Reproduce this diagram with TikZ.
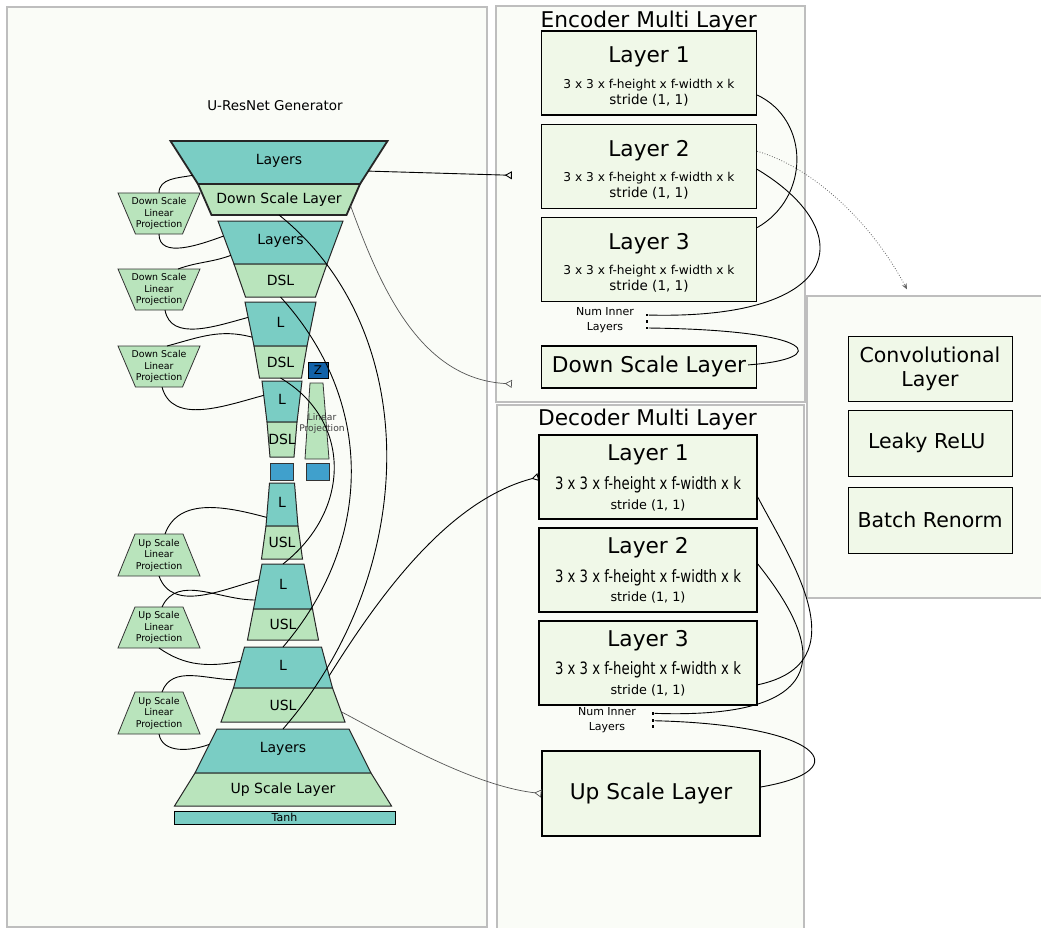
\documentclass[tikz,border=0pt]{standalone}
\usepackage{fontspec}
\setmainfont{DejaVu Sans}
\newfontfamily\narrowfont[FakeStretch=0.78]{DejaVu Sans}
\usepackage{tikz}
\usetikzlibrary{positioning,calc,arrows.meta}
\definecolor{layerteal}{RGB}{122,205,196}
\definecolor{scalegreen}{RGB}{185,228,188}
\definecolor{boxgreen}{RGB}{240,248,232}
\definecolor{panelfill}{RGB}{250,252,247}
\definecolor{panelgray}{RGB}{190,190,190}
\definecolor{zblue}{RGB}{18,98,168}
\definecolor{noiseblue}{RGB}{64,160,204}
\definecolor{linkgray}{RGB}{85,85,85}
\tikzstyle{panel} = [rectangle, draw=panelgray, line width=1.5pt, fill=panelfill, inner sep=0pt]
\tikzstyle{layerbox} = [rectangle, draw=black, line width=1.3pt, fill=boxgreen, inner sep=0pt, font=\fontsize{21.7}{26}\selectfont]

\begin{document}
\begin{tikzpicture}[x=1pt, y=-1pt,
  trap/.style={draw=black!85, line width=#1},
  proj/.style={draw=black!80, line width=0.8pt, fill=scalegreen},
  link/.style={draw=black, line width=0.9pt},
  glink/.style={draw=linkgray, line width=0.7pt},
  dotlink/.style={draw=black!60, line width=0.8pt, dash pattern=on 0.8pt off 1.8pt,
    -{Stealth[length=6pt,width=5pt]}},
  opentip/.style={-{Triangle[open,reversed,length=7pt,width=8pt]}},
  bigtxt/.style={font=\fontsize{21.7}{26}\selectfont, inner sep=0pt},
  titletxt/.style={font=\fontsize{13.5}{16}\selectfont, inner sep=0pt},
  trtxt/.style={font=\fontsize{14}{16}\selectfont, inner sep=0pt},
  projtxt/.style={align=center, font=\fontsize{9.4}{11.5}\selectfont, inner sep=0pt},
  lintxt/.style={align=center, text=black!75, font=\fontsize{9.2}{11.5}\selectfont, inner sep=0pt},
  numtxt/.style={align=center, font=\fontsize{11}{15}\selectfont, inner sep=0pt},
  dotbox/.style={rectangle, fill=black, minimum size=2.7pt, inner sep=0pt},
  zbox/.style={rectangle, draw=black, line width=0.8pt, fill=zblue, minimum width=20pt,
    minimum height=16pt, inner sep=0pt, font=\fontsize{12}{14}\selectfont},
  noisebox/.style={rectangle, draw=black!80, line width=0.8pt, fill=noiseblue,
    minimum width=23pt, minimum height=17pt, inner sep=0pt},
  tanhbox/.style={rectangle, draw=black, line width=1pt, fill=layerteal, minimum width=221pt,
    minimum height=13pt, inner sep=0pt, font=\fontsize{11}{13}\selectfont}]
  \useasboundingbox (0,0) rectangle (1041,928);
  % draw panels
  \node[panel, line width=2pt, minimum width=480pt, minimum height=920pt] (gen) at (247,467) {};
  \node[panel, minimum width=309pt, minimum height=396pt] (enc) at (650.5,204) {};
  \node[panel, minimum width=307pt, minimum height=530pt] (dec) at (650.5,670) {};
  \node[panel, line width=1.2pt, minimum width=240pt, minimum height=302pt] (blk) at (927,447) {};
  \node[titletxt] (gen-t) at (275,106) {U-ResNet Generator};
  \node[bigtxt] (enc-t) at (648.7,21.6) {Encoder Multi Layer};
  \node[bigtxt] (dec-t) at (647.5,419.6) {Decoder Multi Layer};
  % draw encoder layers
  \node[layerbox, minimum width=215pt, minimum height=84pt] (el1) at (649,73) {};
  \foreach \i [count=\prev from 1] in {2,3}
    \node[layerbox, minimum width=215pt, minimum height=84pt, below=8pt of el\prev] (el\i) {};
  \foreach \i in {1,2,3} {
    \node[bigtxt] (el\i-t) at ([yshift=16pt]el\i.center) {Layer \i};
    \node[font=\fontsize{12.2}{14}\selectfont, inner sep=0pt] (el\i-k) at ([yshift=-12pt]el\i.center) {3 x 3 x f-height x f-width x k};
    \node[font=\fontsize{13.5}{16}\selectfont, inner sep=0pt] (el\i-s) at ([yshift=-27pt]el\i.center) {stride (1, 1)};
  }
  \node[layerbox, minimum width=215pt, minimum height=42pt, below=43pt of el3] (eds) {Down Scale Layer};
  \node[numtxt] (enum) at (605,320.5) {Num Inner\\Layers};
  \foreach \i/\y in {1/315,2/321.5,3/328}
    \node[dotbox] (ed\i) at (647,\y) {};
  % draw decoder layers
  \node[layerbox, line width=1.4pt, minimum width=218pt, minimum height=84pt] (dl1) at (648,477) {};
  \foreach \i [count=\prev from 1] in {2,3}
    \node[layerbox, line width=1.4pt, minimum width=218pt, minimum height=84pt, below=7.5pt of dl\prev] (dl\i) {};
  \foreach \i in {1,2,3} {
    \node[bigtxt] (dl\i-t) at ([yshift=22pt]dl\i.center) {Layer \i};
    \node[font=\narrowfont\fontsize{17}{20}\selectfont, inner sep=0pt] (dl\i-k) at ([yshift=-7.5pt]dl\i.center) {3 x 3 x f-height x f-width x k};
    \node[font=\fontsize{12.8}{15}\selectfont, inner sep=0pt] (dl\i-s) at ([yshift=-28pt]dl\i.center) {stride (1, 1)};
  }
  \node[layerbox, line width=1.4pt, minimum width=218pt, minimum height=85pt] (dus) at (651,793.5) {Up Scale Layer};
  \node[numtxt] (dnum) at (607,720.5) {Num Inner\\Layers};
  \foreach \i/\y in {1/713.3,2/720.7,3/726.7}
    \node[dotbox] (dd\i) at (653,\y) {};
  % draw block layers
  \node[layerbox, line width=1pt, font=\fontsize{20.5}{24}\selectfont, align=center,
    minimum width=164pt, minimum height=65pt] (conv) at (930,368.5) {Convolutional\\Layer};
  \node[layerbox, line width=1pt, font=\fontsize{20.5}{24}\selectfont,
    minimum width=164pt, minimum height=66pt, below=8pt of conv] (relu) {Leaky ReLU~~};
  \node[layerbox, line width=1pt, font=\fontsize{20.5}{24}\selectfont,
    minimum width=164pt, minimum height=66pt, below=10pt of relu] (bren) {Batch Renorm};
  % draw generator stages
  \foreach \nm/\cx/\yt/\ym/\yb/\wt/\wm/\wb/\lw/\la/\lb in {
    t0/279/141/184/215/108.5/81/67.5/1.8pt/Layers/Down Scale Layer,
    t1/280.5/221/264/297/62.5/46.5/35/1pt/Layers/DSL,
    t2/280.5/302/346/378/35.5/26.5/21/1pt/L/DSL,
    t3/282/381/422/457/20/15/12/1pt/L/DSL,
    u0/282/483/526/559/12.5/16/20.5/1pt/L/USL,
    u1/283/564/609/640/21/29.5/35.5/1pt/L/USL,
    u2/283/647/688/722/38.5/49.5/62/1pt/L/USL,
    u3/283/729/773/806/66/88/108.5/1pt/Layers/Up Scale Layer} {
    \coordinate (\nm-tl) at (\cx-\wt,\yt);
    \coordinate (\nm-tr) at (\cx+\wt,\yt);
    \coordinate (\nm-ml) at (\cx-\wm,\ym);
    \coordinate (\nm-mr) at (\cx+\wm,\ym);
    \coordinate (\nm-bl) at (\cx-\wb,\yb);
    \coordinate (\nm-br) at (\cx+\wb,\yb);
    \draw[trap=\lw, fill=layerteal] (\nm-tl) -- (\nm-tr) -- (\nm-mr) -- (\nm-ml) -- cycle;
    \draw[trap=\lw, fill=scalegreen] (\nm-ml) -- (\nm-mr) -- (\nm-br) -- (\nm-bl) -- cycle;
    \node[trtxt] (\nm-up) at (\cx,{(\yt+\ym)/2-2}) {\la};
    \node[trtxt] (\nm-lo) at (\cx,{(\ym+\yb)/2}) {\lb};
    \coordinate (\nm-n) at (\cx,\yt);
    \coordinate (\nm-s) at (\cx,\yb);
    \coordinate (\nm-a) at ($(\nm-tl)!0.35!(\nm-ml)$);
    \coordinate (\nm-b) at ($(\nm-tl)!0.8!(\nm-ml)$);
    \coordinate (\nm-r) at ($(\nm-tr)!0.7!(\nm-mr)$);
    \coordinate (\nm-rl) at ($(\nm-mr)!0.7!(\nm-br)$);
  }
  \node[tanhbox] (tanh) at (284.5,817.5) {Tanh};
  % draw latent code and its projection
  \node[zbox] (z) at (318,370) {Z};
  \draw[proj] (310,383) -- (323,383) -- (329,459) -- (305,459) -- cycle;
  \node[lintxt] (lp) at (322,423.5) {Linear\\Projection};
  \node[noisebox] (nz1) at (281.5,471.5) {};
  \node[noisebox] (nz2) at (317.5,471.5) {};
  % draw linear projections
  \foreach \nm/\yt/\yb/\wt/\wb/\txt in {
    dp1/193/234/41/23.5/Down, dp2/269/310/41/23.5/Down, dp3/346/387/41/23.5/Down,
    up1/534/576/24/41/Up, up2/607/648/24/41/Up, up3/692/734/24/41/Up} {
    \draw[proj] (159-\wt,\yt) -- (159+\wt,\yt) -- (159+\wb,\yb) -- (159-\wb,\yb) -- cycle;
    \node[projtxt] (\nm-t) at (159,{(\yt+\yb)/2}) {\txt{} Scale\\Linear\\Projection};
    \coordinate (\nm-n) at (159,\yt);
    \coordinate (\nm-s) at (159,\yb);
  }
  % draw links to the linear projections
  \draw[link] (t0-b) to[out=190,in=90] (dp1-n);
  \draw[link] (dp1-s) to[out=-90,in=200] (t1-a);
  \draw[link] (t1-b) to[out=200,in=20] ([xshift=19pt]dp2-n);
  \draw[link] ([xshift=6pt]dp2-s) to[out=-80,in=195] (t2-a);
  \draw[link] (t2-b) to[out=165,in=15] ([xshift=8pt]dp3-n);
  \draw[link] ([xshift=3pt]dp3-s) to[out=-75,in=195] (t3-a);
  \draw[link] ([xshift=6pt]up1-n) to[out=70,in=165] (u0-b);
  \draw[link] (up1-s) to[out=-70,in=195] (u1-a);
  \draw[link] ([xshift=3pt]up2-n) to[out=65,in=180] (u1-b);
  \draw[link] (up2-s) to[out=-35,in=190] (u2-a);
  \draw[link] ([xshift=3pt]up3-n) to[out=70,in=180] (u2-b);
  \draw[link] (up3-s) to[out=-80,in=200] (u3-a);
  % draw skip links
  \draw[link] (t0-s) .. controls +(144,115) and +(138,-159) .. (u3-n);
  \draw[link] (t1-s) .. controls +(94,103) and +(91.5,-107) .. (u2-n);
  \draw[link] (t2-s) .. controls +(71,42) and +(69,-54) .. (u1-n);
  % draw links into the multi layers
  \draw[link, opentip] (t0-r) -- ([xshift=-29pt,yshift=-9pt]el2.west);
  \draw[glink, opentip] (t0-rl) .. controls +(30,82) and +(-92,-5) .. ([xshift=-29pt,yshift=-17pt]eds.west);
  \draw[link, opentip] (u2-r) .. controls +(52,-83) and +(-89,23) .. (dl1.west);
  \draw[glink, opentip] (u2-rl) .. controls +(37,19) and +(-72,-8) .. (dus.west);
  % draw inner layer links
  \draw[link] ([yshift=-22pt]el1.east) .. controls +(53,25) and +(53,-30) .. ([yshift=32pt]el3.east);
  \draw[link] ([yshift=-3pt]el2.east) .. controls +(103,62) and +(198,5) .. (ed1);
  \draw[link] (ed3) .. controls +(173,2) and +(83,-6) .. ([xshift=-9pt,yshift=2pt]eds.east);
  \draw[link] ([yshift=-20pt]dl1.east) .. controls +(33,63) and +(103,-22) .. ([yshift=-22pt]dl3.east);
  \draw[link] ([yshift=6pt]dl2.east) .. controls +(50,63) and +(207,7) .. (dd1);
  \draw[link] (dd2) .. controls +(167,4) and +(100,-17) .. ([yshift=6.5pt]dus.east);
  % draw link to the block layers
  \draw[dotlink] ([yshift=15pt]el2.east) .. controls +(53,15) and +(-37,-70) .. ([xshift=-20pt,yshift=6pt]blk.north);
\end{tikzpicture}
\end{document}
